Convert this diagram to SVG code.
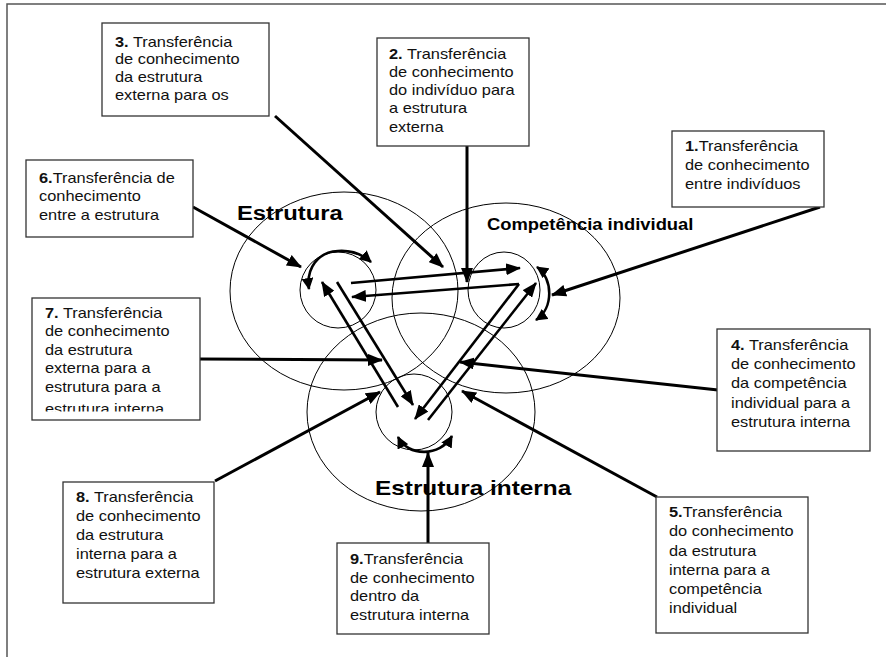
<svg xmlns="http://www.w3.org/2000/svg" width="886" height="657" viewBox="0 0 886 657">
<style>
.bx{fill:#fff;stroke:#333;stroke-width:1.3}
.t{font-family:"Liberation Sans",Arial,sans-serif;font-size:14px;fill:#111}
.b{font-weight:bold}
.lbl{font-family:"Liberation Sans",Arial,sans-serif;font-weight:bold;fill:#000}
.ring{fill:none;stroke:#000;stroke-width:1}
.c{fill:none;stroke:#000;stroke-width:3;marker-end:url(#ah)}
.a{fill:none;stroke:#000;stroke-width:2.6;marker-end:url(#ah)}
.loop{fill:none;stroke:#000;stroke-width:2.6;marker-start:url(#ah2);marker-end:url(#ah2)}
</style>
<defs>
<marker id="ah" markerUnits="userSpaceOnUse" markerWidth="16" markerHeight="12" refX="14" refY="6" orient="auto" viewBox="0 0 16 12"><path d="M0,0 L15,6 L0,12 z" fill="#000"/></marker>
<marker id="ah2" markerUnits="userSpaceOnUse" markerWidth="14" markerHeight="12" refX="11" refY="6" orient="auto-start-reverse" viewBox="0 0 14 12"><path d="M0,0 L12,6 L0,12 z" fill="#000"/></marker>
<clipPath id="clip7"><rect x="32" y="298" width="168" height="113.5"/></clipPath>
</defs>
<rect width="886" height="657" fill="#fff"/>
<path d="M7,657 L7,4 L886,4" fill="none" stroke="#555" stroke-width="1.5"/>

<g id="rings">
<ellipse class="ring" cx="344" cy="291" rx="114" ry="99"/>
<ellipse class="ring" cx="506" cy="298" rx="114" ry="95"/>
<ellipse class="ring" cx="421" cy="412" rx="114" ry="99"/>
<ellipse class="ring" cx="338" cy="290" rx="38" ry="38"/>
<ellipse class="ring" cx="504" cy="290" rx="36" ry="38"/>
<ellipse class="ring" cx="414" cy="412" rx="38" ry="38"/>
</g>

<g id="labels">
<text class="lbl" font-size="20" transform="matrix(1.19 0 0 1 237 0)" x="0" y="220">Estrutura</text>
<text class="lbl" font-size="16" transform="matrix(1.15 0 0 1 487 0)" x="0" y="230">Competência individual</text>
<text class="lbl" font-size="21" transform="matrix(1.16 0 0 1 375 0)" x="0" y="495">Estrutura interna</text>
</g>

<g id="connectors">
<path class="a" d="M351,283 L520,268"/>
<path class="a" d="M519,284 L352,297"/>
<path class="a" d="M398,407 L322,282"/>
<path class="a" d="M337,282 L413,405"/>
<path class="a" d="M519,284 L415,419"/>
<path class="a" d="M428,420 L536,283"/>
<path class="loop" d="M309,289 C306,268 318,252 338,251 C352,250 363,255 371,262"/>
<path class="loop" d="M537,267 C553,278 554,308 536,320"/>
<path class="loop" d="M398,437 C408,457 440,457 452,436"/>
<path class="c" d="M275,116 L443,267"/>
<path class="c" d="M467,146 L467,282"/>
<path class="c" d="M820,207 L552,295"/>
<path class="c" d="M193,207 L301,267"/>
<path class="c" d="M199,359 L382,360"/>
<path class="c" d="M718,390 L460,362"/>
<path class="c" d="M657,497 L462,391"/>
<path class="c" d="M215,481 L380,392"/>
<path class="c" d="M428,543 L428,453"/>
</g>

<g id="box1">
<rect class="bx" x="672" y="131" width="152" height="76"/>
<text class="t" transform="matrix(1.17 0 0 1 685 0)"><tspan x="0" y="151.5"><tspan class="b">1.</tspan>Transferência</tspan><tspan x="0" y="170.5">de conhecimento</tspan><tspan x="0" y="189.5">entre indivíduos</tspan></text>
</g>
<g id="box2">
<rect class="bx" x="377" y="38" width="152" height="108"/>
<text class="t" transform="matrix(1.17 0 0 1 389 0)"><tspan x="0" y="59"><tspan class="b">2.</tspan> Transferência</tspan><tspan x="0" y="77">de conhecimento</tspan><tspan x="0" y="95.5">do indivíduo para</tspan><tspan x="0" y="113.5">a estrutura</tspan><tspan x="0" y="132">externa</tspan></text>
</g>
<g id="box3">
<rect class="bx" x="102" y="23" width="167" height="93"/>
<text class="t" transform="matrix(1.17 0 0 1 115 0)"><tspan x="0" y="47"><tspan class="b">3.</tspan> Transferência</tspan><tspan x="0" y="64.5">de conhecimento</tspan><tspan x="0" y="82.5">da estrutura</tspan><tspan x="0" y="100">externa para os</tspan></text>
</g>
<g id="box4">
<rect class="bx" x="717" y="329" width="153" height="122"/>
<text class="t" transform="matrix(1.17 0 0 1 731 0)"><tspan x="0" y="350"><tspan class="b">4.</tspan> Transferência</tspan><tspan x="0" y="369.5">de conhecimento</tspan><tspan x="0" y="388.5">da competência</tspan><tspan x="0" y="408">individual para a</tspan><tspan x="0" y="427">estrutura interna</tspan></text>
</g>
<g id="box5">
<rect class="bx" x="656" y="497" width="152" height="136"/>
<text class="t" transform="matrix(1.17 0 0 1 669 0)"><tspan x="0" y="517"><tspan class="b">5.</tspan>Transferência</tspan><tspan x="0" y="536.5">do conhecimento</tspan><tspan x="0" y="556">da estrutura</tspan><tspan x="0" y="575">interna para a</tspan><tspan x="0" y="594.5">competência</tspan><tspan x="0" y="613.5">individual</tspan></text>
</g>
<g id="box6">
<rect class="bx" x="26" y="160" width="167" height="77"/>
<text class="t" transform="matrix(1.17 0 0 1 39 0)"><tspan x="0" y="183"><tspan class="b">6.</tspan>Transferência de</tspan><tspan x="0" y="201.5">conhecimento</tspan><tspan x="0" y="220">entre a estrutura</tspan></text>
</g>
<g id="box7">
<rect class="bx" x="32" y="298" width="168" height="122"/>
<g clip-path="url(#clip7)">
<text class="t" transform="matrix(1.17 0 0 1 45 0)"><tspan x="0" y="318"><tspan class="b">7.</tspan> Transferência</tspan><tspan x="0" y="336.5">de conhecimento</tspan><tspan x="0" y="355">da estrutura</tspan><tspan x="0" y="373.5">externa para a</tspan><tspan x="0" y="392.5">estrutura para a</tspan><tspan x="0" y="414">estrutura interna</tspan></text>
</g>
</g>
<g id="box8">
<rect class="bx" x="63" y="482" width="151" height="121"/>
<text class="t" transform="matrix(1.17 0 0 1 76 0)"><tspan x="0" y="502.5"><tspan class="b">8.</tspan> Transferência</tspan><tspan x="0" y="521.5">de conhecimento</tspan><tspan x="0" y="540.5">da estrutura</tspan><tspan x="0" y="559">interna para a</tspan><tspan x="0" y="578">estrutura externa</tspan></text>
</g>
<g id="box9">
<rect class="bx" x="337" y="543" width="152" height="91"/>
<text class="t" transform="matrix(1.17 0 0 1 350 0)"><tspan x="0" y="564"><tspan class="b">9.</tspan>Transferência</tspan><tspan x="0" y="582.7">de conhecimento</tspan><tspan x="0" y="601.5">dentro da</tspan><tspan x="0" y="620">estrutura interna</tspan></text>
</g>
</svg>
